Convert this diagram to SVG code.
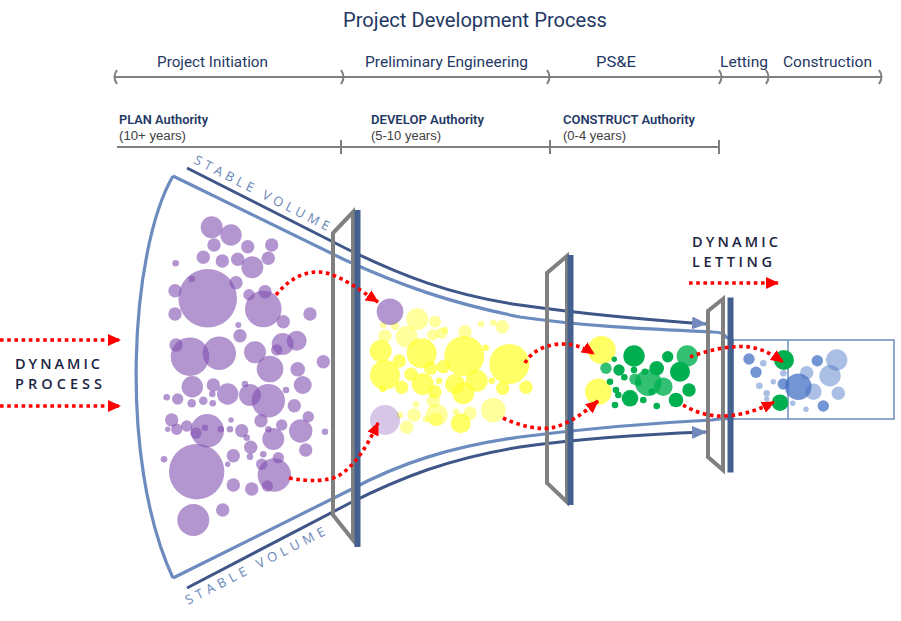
<svg xmlns="http://www.w3.org/2000/svg" width="901" height="621" viewBox="0 0 901 621">
<defs>
<style>
.ttl{font-family:Roboto,"Liberation Sans",sans-serif;fill:#1F3864}
.ph{font-family:Roboto,"Liberation Sans",sans-serif;font-size:15.5px;fill:#1F3864}
.au{font-family:Roboto,"Liberation Sans",sans-serif;font-size:12.5px;font-weight:600;fill:#1F3864}
.yr{font-family:"Liberation Sans",Arial,sans-serif;font-size:12.5px;fill:#404040}
.dyn{font-family:"Open Sans","Liberation Sans",sans-serif;font-size:14.5px;font-weight:600;fill:#1B2541}
.sv{font-family:"Open Sans","Liberation Sans",sans-serif;font-size:13px;fill:#6A86B8}
.axis{fill:none;stroke:#7F7F7F;stroke-width:2}
.gray{fill:none;stroke:#808080;stroke-width:4;stroke-linejoin:miter}
.bar{fill:none;stroke:#44608F;stroke-width:6}
.lite{fill:none;stroke:#6C8BBF;stroke-width:3.2}
.dark{fill:none;stroke:#3E5688;stroke-width:3}
.red{fill:none;stroke:#FF0000;stroke-width:3.6;stroke-dasharray:3.6 3.6}
.p{fill:#8050B0;fill-opacity:.6}
.pl{fill:#8050B0;fill-opacity:.32}
.y{fill:#FFFF33;fill-opacity:.75}
.yl{fill:#FFFF33;fill-opacity:.48}
.g{fill:#00B050}
.gl{fill:#00B050;fill-opacity:.8}
.b{fill:#4472C4;fill-opacity:.75}
.bl{fill:#4472C4;fill-opacity:.45}
</style>
<marker id="rh" markerUnits="userSpaceOnUse" markerWidth="13" markerHeight="12" viewBox="0 0 13 12" refX="12" refY="6" orient="auto"><path d="M0,0 L13,6 L0,12 z" fill="#FF0000"/></marker>
<marker id="bh" markerUnits="userSpaceOnUse" markerWidth="15" markerHeight="13" viewBox="0 0 15 13" refX="14" refY="6.5" orient="auto"><path d="M0,0 L15,6.5 L0,13 z" fill="#7189BC"/></marker>
</defs>
<rect width="901" height="621" fill="#FFFFFF"/>

<g id="header">
<text class="ttl" x="343" y="27" font-size="19.5" textLength="264" lengthAdjust="spacingAndGlyphs">Project Development Process</text>
</g>

<g id="phase-axis">
<path class="axis" d="M115,77 L882,77"/>
<path class="axis" d="M117,70 Q112,77 117,84 M341,70 Q346,77 341,84 M547,70 Q552,77 547,84 M719,70 Q724,77 719,84 M766,70 Q771,77 766,84 M879,70 Q884,77 879,84"/>
<text class="ph" x="157" y="66.5" textLength="111" lengthAdjust="spacingAndGlyphs">Project Initiation</text>
<text class="ph" x="365" y="66.5" textLength="163" lengthAdjust="spacingAndGlyphs">Preliminary Engineering</text>
<text class="ph" x="596" y="66.5" textLength="40" lengthAdjust="spacingAndGlyphs">PS&amp;E</text>
<text class="ph" x="720" y="66.5" textLength="48" lengthAdjust="spacingAndGlyphs">Letting</text>
<text class="ph" x="783" y="66.5" textLength="89" lengthAdjust="spacingAndGlyphs">Construction</text>
</g>

<g id="authority-axis">
<path class="axis" d="M117,147 L719,147 M341,140 V154 M550,140 V154 M719,140 V154"/>
<text class="au" x="119" y="123.5" textLength="89" lengthAdjust="spacingAndGlyphs">PLAN Authority</text>
<text class="yr" x="119" y="140" textLength="67" lengthAdjust="spacingAndGlyphs">(10+ years)</text>
<text class="au" x="371" y="123.5" textLength="113" lengthAdjust="spacingAndGlyphs">DEVELOP Authority</text>
<text class="yr" x="371" y="140" textLength="70" lengthAdjust="spacingAndGlyphs">(5-10 years)</text>
<text class="au" x="563" y="123.5" textLength="132" lengthAdjust="spacingAndGlyphs">CONSTRUCT Authority</text>
<text class="yr" x="563" y="140" textLength="63" lengthAdjust="spacingAndGlyphs">(0-4 years)</text>
</g>

<g id="funnel">
<path class="lite" d="M173,176 C130,250 118,460 173,578"/>
<rect x="733" y="340" width="161" height="79" fill="none" stroke="#6C8BBF" stroke-width="1.5"/>
<path d="M788,340 V419" stroke="#6C8BBF" stroke-width="1.5" fill="none"/>
<text class="sv" transform="translate(193,163) rotate(27)" textLength="150" lengthAdjust="spacing">STABLE VOLUME</text>
<text class="sv" transform="translate(188,605) rotate(-27)" textLength="155" lengthAdjust="spacing">STABLE VOLUME</text>
</g>

<g id="stage-plan">
<circle class="p" cx="211.7" cy="227.3" r="11"/>
<circle class="p" cx="231" cy="235" r="10.7"/>
<circle class="p" cx="214" cy="245" r="6.7"/>
<circle class="p" cx="247.7" cy="246.7" r="6.7"/>
<circle class="p" cx="271.7" cy="245" r="6.7"/>
<circle class="p" cx="203.3" cy="257.3" r="6.7"/>
<circle class="p" cx="222.3" cy="261" r="6.7"/>
<circle class="p" cx="237.7" cy="259.3" r="6.7"/>
<circle class="p" cx="252.3" cy="267.3" r="11"/>
<circle class="p" cx="268.3" cy="258.3" r="6.7"/>
<circle class="p" cx="175.7" cy="263.3" r="3.3"/>
<circle class="p" cx="207.7" cy="298.3" r="29.3"/>
<circle class="p" cx="175" cy="290.7" r="6.7"/>
<circle class="p" cx="175" cy="314" r="6.7"/>
<circle class="p" cx="236" cy="282.7" r="6.7"/>
<circle class="p" cx="191.7" cy="279" r="3.3"/>
<circle class="p" cx="249" cy="294.7" r="5.7"/>
<circle class="p" cx="265" cy="291.7" r="6.7"/>
<circle class="p" cx="263.3" cy="309" r="18.3"/>
<circle class="p" cx="283.3" cy="321.7" r="6.7"/>
<circle class="p" cx="310" cy="314" r="6.7"/>
<circle class="p" cx="238.3" cy="325" r="3"/>
<circle class="p" cx="240" cy="335.7" r="6.7"/>
<circle class="p" cx="190" cy="356.7" r="19.3"/>
<circle class="p" cx="219.3" cy="353.3" r="16.7"/>
<circle class="p" cx="176" cy="345" r="6.7"/>
<circle class="p" cx="255" cy="352.3" r="11"/>
<circle class="p" cx="282.7" cy="344" r="11"/>
<circle class="p" cx="296.7" cy="340.7" r="10"/>
<circle class="p" cx="276.7" cy="350" r="5.7"/>
<circle class="p" cx="323.3" cy="361.7" r="6.7"/>
<circle class="p" cx="270" cy="369" r="13.3"/>
<circle class="p" cx="297.7" cy="369.3" r="7.3"/>
<circle class="p" cx="302.7" cy="385" r="9"/>
<circle class="p" cx="192.3" cy="386.7" r="10.7"/>
<circle class="p" cx="213.3" cy="385" r="6.7"/>
<circle class="p" cx="227.7" cy="394" r="10.7"/>
<circle class="p" cx="245" cy="384" r="3.3"/>
<circle class="p" cx="250" cy="395" r="11"/>
<circle class="p" cx="268.3" cy="400.7" r="16.7"/>
<circle class="p" cx="286" cy="390" r="3.3"/>
<circle class="p" cx="294.3" cy="405.7" r="6.7"/>
<circle class="p" cx="166.7" cy="397.3" r="3.3"/>
<circle class="p" cx="177.7" cy="399" r="5.7"/>
<circle class="p" cx="191.7" cy="403.3" r="4.3"/>
<circle class="p" cx="203.3" cy="400.7" r="4.3"/>
<circle class="p" cx="212.7" cy="403.3" r="3.3"/>
<circle class="p" cx="212.3" cy="394" r="3.3"/>
<circle class="p" cx="308.3" cy="416.7" r="5.7"/>
<circle class="p" cx="261" cy="420.7" r="6.7"/>
<circle class="p" cx="281.7" cy="425" r="5.7"/>
<circle class="p" cx="300.7" cy="431" r="11.7"/>
<circle class="p" cx="325" cy="431.7" r="3.3"/>
<circle class="p" cx="171.7" cy="420" r="6.7"/>
<circle class="p" cx="167.7" cy="429.3" r="2.7"/>
<circle class="p" cx="176.7" cy="429.3" r="5.7"/>
<circle class="p" cx="186.7" cy="426" r="5.7"/>
<circle class="p" cx="207.3" cy="430.7" r="16.7"/>
<circle class="p" cx="196" cy="433.3" r="5.7"/>
<circle class="p" cx="205" cy="427.7" r="3.3"/>
<circle class="p" cx="220.7" cy="429.3" r="3.3"/>
<circle class="p" cx="231" cy="420" r="2.7"/>
<circle class="p" cx="230" cy="429.3" r="3.3"/>
<circle class="p" cx="241.7" cy="430.7" r="6.7"/>
<circle class="p" cx="246.7" cy="437.7" r="3.3"/>
<circle class="p" cx="268.3" cy="429.3" r="3.3"/>
<circle class="p" cx="273.3" cy="439" r="11"/>
<circle class="p" cx="250.7" cy="447.3" r="6.7"/>
<circle class="p" cx="233.3" cy="455.7" r="6.7"/>
<circle class="p" cx="250" cy="456.7" r="3.3"/>
<circle class="p" cx="227.7" cy="464.3" r="2.7"/>
<circle class="p" cx="263.3" cy="454.3" r="3.3"/>
<circle class="p" cx="305.7" cy="450" r="6.7"/>
<circle class="p" cx="278.3" cy="457.7" r="5.7"/>
<circle class="p" cx="261.7" cy="464.3" r="5.7"/>
<circle class="p" cx="274.3" cy="475" r="16.7"/>
<circle class="p" cx="267.3" cy="486" r="5.7"/>
<circle class="p" cx="196.7" cy="471.7" r="27.7"/>
<circle class="p" cx="164" cy="459.3" r="3.3"/>
<circle class="p" cx="233.3" cy="485" r="6.7"/>
<circle class="p" cx="251.7" cy="489" r="6.7"/>
<circle class="p" cx="193.3" cy="520" r="16"/>
<circle class="p" cx="222.7" cy="510" r="6.7"/>
</g>

<g id="stage-develop">
<circle class="yl" cx="417.3" cy="319.3" r="11"/>
<circle class="yl" cx="435" cy="321.7" r="6"/>
<circle class="yl" cx="406.7" cy="336.7" r="11"/>
<circle class="yl" cx="385" cy="336" r="6.7"/>
<circle class="yl" cx="395" cy="326" r="4.3"/>
<circle class="yl" cx="383.3" cy="325" r="3.3"/>
<circle class="yl" cx="432.7" cy="335" r="5.7"/>
<circle class="yl" cx="441.7" cy="333.3" r="5.7"/>
<circle class="yl" cx="445" cy="330" r="3.3"/>
<circle class="yl" cx="465" cy="331.7" r="6.7"/>
<circle class="yl" cx="481" cy="324" r="3.3"/>
<circle class="yl" cx="493.3" cy="322.7" r="3.3"/>
<circle class="yl" cx="502.3" cy="326.7" r="6.7"/>
<circle class="y" cx="380.7" cy="351" r="11"/>
<circle class="y" cx="421.7" cy="353.3" r="15"/>
<circle class="y" cx="464.3" cy="356" r="20"/>
<circle class="y" cx="509.3" cy="364" r="20"/>
<circle class="y" cx="485.7" cy="347.7" r="3.3"/>
<circle class="y" cx="399.3" cy="361" r="6.7"/>
<circle class="y" cx="430.7" cy="368.3" r="6.7"/>
<circle class="y" cx="443.3" cy="366.7" r="6.7"/>
<circle class="y" cx="385" cy="375" r="15"/>
<circle class="y" cx="411" cy="374.3" r="6.7"/>
<circle class="y" cx="422.7" cy="384" r="11"/>
<circle class="y" cx="439" cy="380.7" r="3.3"/>
<circle class="y" cx="455" cy="384" r="10"/>
<circle class="y" cx="476.7" cy="380.7" r="11"/>
<circle class="y" cx="491.7" cy="380.7" r="3.3"/>
<circle class="y" cx="502.7" cy="388.3" r="6.7"/>
<circle class="y" cx="526" cy="387.3" r="6.7"/>
<circle class="y" cx="401.7" cy="387.3" r="6.7"/>
<circle class="y" cx="382.7" cy="389" r="3.3"/>
<circle class="y" cx="463.3" cy="393.3" r="11"/>
<circle class="y" cx="435" cy="391.7" r="6.7"/>
<circle class="yl" cx="433.3" cy="400.7" r="6.7"/>
<circle class="yl" cx="416" cy="404.3" r="3.3"/>
<circle class="yl" cx="414" cy="415" r="6.7"/>
<circle class="yl" cx="436.7" cy="415" r="11"/>
<circle class="yl" cx="436" cy="419.3" r="6.7"/>
<circle class="yl" cx="426" cy="419.3" r="3.3"/>
<circle class="yl" cx="456" cy="411.7" r="3.3"/>
<circle class="yl" cx="470" cy="413.3" r="6.7"/>
<circle class="y" cx="460.7" cy="423.3" r="10"/>
<circle class="yl" cx="493.3" cy="410" r="12.3"/>
<circle class="yl" cx="406.7" cy="427.3" r="6.7"/>
<circle class="yl" cx="400" cy="415" r="3.3"/>
<circle class="p" cx="390" cy="311.7" r="13.3"/>
<circle class="pl" cx="385" cy="420" r="15"/>
</g>

<g id="stage-construct">
<circle class="y" cx="601.7" cy="350" r="14"/>
<circle class="y" cx="598.3" cy="391.7" r="13.3"/>
<circle class="g" cx="634" cy="356" r="10.7"/>
<circle class="g" cx="667.7" cy="356.7" r="5.7"/>
<circle class="gl" cx="687.3" cy="356" r="10.7"/>
<circle class="gl" cx="606" cy="368.3" r="5.7"/>
<circle class="g" cx="619" cy="370" r="5.7"/>
<circle class="g" cx="614.3" cy="359.3" r="2.7"/>
<circle class="g" cx="634" cy="370" r="3.3"/>
<circle class="g" cx="645" cy="371.7" r="3.3"/>
<circle class="g" cx="656.7" cy="368.3" r="7.3"/>
<circle class="g" cx="680" cy="371.7" r="10"/>
<circle class="g" cx="624.3" cy="377.3" r="3.3"/>
<circle class="gl" cx="635" cy="379.3" r="5.7"/>
<circle class="g" cx="638.3" cy="382.7" r="3.3"/>
<circle class="gl" cx="648.3" cy="382.7" r="13.3"/>
<circle class="gl" cx="663.3" cy="386.7" r="9.3"/>
<circle class="g" cx="610" cy="381.7" r="3.3"/>
<circle class="g" cx="616" cy="390" r="3.3"/>
<circle class="g" cx="618.3" cy="395" r="3.3"/>
<circle class="g" cx="630" cy="398.3" r="8.3"/>
<circle class="g" cx="643.3" cy="400" r="3.3"/>
<circle class="g" cx="651.7" cy="391.7" r="3.3"/>
<circle class="g" cx="676" cy="400" r="7.3"/>
<circle class="g" cx="689" cy="390" r="6.7"/>
<circle class="g" cx="615" cy="405" r="3.3"/>
<circle class="g" cx="656.7" cy="406" r="3.3"/>
</g>

<g id="stage-letting">
<circle class="b" cx="749" cy="359" r="5.7"/>
<circle class="bl" cx="763.3" cy="363.3" r="3.3"/>
<circle class="b" cx="756" cy="372.3" r="5.7"/>
<circle class="bl" cx="783.3" cy="373.3" r="3.3"/>
<circle class="bl" cx="773.3" cy="381.7" r="2.7"/>
<circle class="bl" cx="759.3" cy="385.7" r="3.3"/>
<circle class="b" cx="783.3" cy="384" r="5.7"/>
<circle class="bl" cx="806.7" cy="372.7" r="6.7"/>
<circle class="b" cx="817.3" cy="360.7" r="5.7"/>
<circle class="bl" cx="836.7" cy="360" r="10.7"/>
<circle class="bl" cx="830" cy="375.7" r="10.7"/>
<circle class="bl" cx="813.3" cy="391.7" r="8.3"/>
<circle class="b" cx="798.3" cy="386.7" r="13.3"/>
<circle class="bl" cx="838.3" cy="393.3" r="6.7"/>
<circle class="b" cx="823.3" cy="406" r="5.7"/>
<circle class="bl" cx="766.7" cy="393.3" r="3.3"/>
<circle class="bl" cx="766.7" cy="399" r="2.7"/>
<circle class="bl" cx="792.7" cy="403.3" r="2.7"/>
<circle class="bl" cx="806" cy="409.3" r="2.7"/>
<circle class="bl" cx="768.3" cy="406.7" r="2.7"/>
<circle class="g" cx="784" cy="360" r="10"/>
<circle class="g" cx="780" cy="402.7" r="8.3"/>
</g>

<g id="connectors">
<path class="dark" d="M187,168 L345,248 C400,275 450,295 520,305 C590,315 650,320 706,324" marker-end="url(#bh)"/>
<path class="lite" d="M173,176 L345,260 C400,285 450,303 520,317 C590,327 650,329 713,332 Q724,332 726,337 L733,340"/>
<path class="lite" d="M173,578 L350,490 C400,463 450,447 520,437 C590,428 650,423 712,420 Q724,418 733,419"/>
<path class="dark" d="M187,588 L350,503 C400,478 450,458 520,447 C590,437 650,434 706,432" marker-end="url(#bh)"/>
</g>

<g id="gate-1">
<path class="gray" d="M353,212 L333,233 L333,515 L353,540 Z"/>
<path class="bar" d="M357.5,210 V547"/>
</g>
<g id="gate-2">
<path class="gray" d="M567,256 L547,273 L547,483 L567,502 Z"/>
<path class="bar" d="M570.5,255 V505"/>
</g>
<g id="gate-3">
<path class="gray" d="M723,299 L708,311 L708,457 L723,470 Z"/>
<path class="bar" d="M730.5,297.5 V472.5"/>
</g>

<g id="dynamic-arrows">
<path class="red" d="M0,340 L120,340" marker-end="url(#rh)"/>
<path class="red" d="M0,406 L120,406" marker-end="url(#rh)"/>
<path class="red" d="M689,283 L778,283" marker-end="url(#rh)"/>
<path class="red" d="M276,295 C292,275 312,268 330,274 C345,279 360,290 378,302" marker-end="url(#rh)"/>
<path class="red" d="M289,478 C310,482 328,481 338,476 C355,466 368,445 378,423" marker-end="url(#rh)"/>
<path class="red" d="M525,363 C532,350 548,344 562,344 C575,344 585,348 594,354" marker-end="url(#rh)"/>
<path class="red" d="M503,418 C520,426 540,431 555,427 C570,423 585,412 598,401" marker-end="url(#rh)"/>
<path class="red" d="M690,357 C710,349 735,345 750,347 C763,349 773,355 783,362" marker-end="url(#rh)"/>
<path class="red" d="M683,405 C695,412 710,417 725,416 C745,415 760,409 774,402" marker-end="url(#rh)"/>
</g>

<g id="labels">
<text class="dyn" x="15" y="368.5" textLength="85" lengthAdjust="spacing">DYNAMIC</text>
<text class="dyn" x="15" y="388.5" textLength="87" lengthAdjust="spacing">PROCESS</text>
<text class="dyn" x="692" y="247" textLength="86" lengthAdjust="spacing">DYNAMIC</text>
<text class="dyn" x="692" y="267" textLength="80" lengthAdjust="spacing">LETTING</text>
</g>
</svg>
